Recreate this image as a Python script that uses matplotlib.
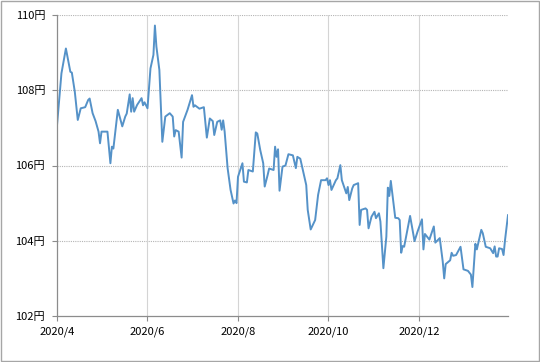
import matplotlib
matplotlib.use("Agg")
import matplotlib.pyplot as plt
import matplotlib.dates as mdates
from matplotlib.patches import Rectangle
import pandas as pd

plt.rcParams['font.family'] = ['Noto Sans CJK JP', 'DejaVu Sans']

dates = [
    "2020-04-01", "2020-04-04", "2020-04-07", "2020-04-10", "2020-04-11", "2020-04-13",
    "2020-04-15", "2020-04-17", "2020-04-20", "2020-04-22", "2020-04-23", "2020-04-25",
    "2020-04-27", "2020-04-29", "2020-04-30", "2020-05-01", "2020-05-05", "2020-05-07",
    "2020-05-08", "2020-05-09", "2020-05-12", "2020-05-15", "2020-05-17", "2020-05-18",
    "2020-05-20", "2020-05-21", "2020-05-22", "2020-05-23", "2020-05-25", "2020-05-28",
    "2020-05-29", "2020-05-30", "2020-06-01", "2020-06-03", "2020-06-05", "2020-06-06",
    "2020-06-07", "2020-06-09", "2020-06-11", "2020-06-13", "2020-06-16", "2020-06-18",
    "2020-06-19", "2020-06-20", "2020-06-22", "2020-06-24", "2020-06-25", "2020-06-28",
    "2020-07-01", "2020-07-02", "2020-07-03", "2020-07-06", "2020-07-09", "2020-07-11",
    "2020-07-13", "2020-07-15", "2020-07-16", "2020-07-18", "2020-07-20", "2020-07-21",
    "2020-07-22", "2020-07-23", "2020-07-25", "2020-07-27", "2020-07-29", "2020-07-30",
    "2020-07-31", "2020-08-01", "2020-08-04", "2020-08-05", "2020-08-07", "2020-08-08",
    "2020-08-11", "2020-08-13", "2020-08-14", "2020-08-16", "2020-08-18", "2020-08-19",
    "2020-08-21", "2020-08-22", "2020-08-25", "2020-08-26", "2020-08-27", "2020-08-28",
    "2020-08-29", "2020-08-31", "2020-09-02", "2020-09-04", "2020-09-07", "2020-09-09",
    "2020-09-10", "2020-09-12", "2020-09-16", "2020-09-17", "2020-09-19", "2020-09-22",
    "2020-09-24", "2020-09-26", "2020-09-29", "2020-09-30", "2020-10-01", "2020-10-02",
    "2020-10-03", "2020-10-06", "2020-10-07", "2020-10-09", "2020-10-10", "2020-10-13",
    "2020-10-14", "2020-10-15", "2020-10-17", "2020-10-18", "2020-10-21", "2020-10-22",
    "2020-10-23", "2020-10-26", "2020-10-27", "2020-10-28", "2020-10-30", "2020-11-01",
    "2020-11-02", "2020-11-04", "2020-11-05", "2020-11-07", "2020-11-09", "2020-11-10",
    "2020-11-11", "2020-11-12", "2020-11-15", "2020-11-17", "2020-11-18", "2020-11-19",
    "2020-11-20", "2020-11-21", "2020-11-25", "2020-11-28", "2020-11-30", "2020-12-03",
    "2020-12-04", "2020-12-05", "2020-12-08", "2020-12-11", "2020-12-12", "2020-12-15",
    "2020-12-17", "2020-12-18", "2020-12-19", "2020-12-22", "2020-12-23", "2020-12-24",
    "2020-12-26", "2020-12-29", "2020-12-31", "2021-01-03", "2021-01-05", "2021-01-06",
    "2021-01-08", "2021-01-09", "2021-01-12", "2021-01-13", "2021-01-15", "2021-01-18",
    "2021-01-20", "2021-01-21", "2021-01-22", "2021-01-23", "2021-01-24", "2021-01-26",
    "2021-01-27", "2021-01-28", "2021-01-30",
]

rates = [
    107.07, 108.45, 109.11, 108.49, 108.47, 107.96,
    107.21, 107.52, 107.55, 107.74, 107.78, 107.39,
    107.18, 106.90, 106.59, 106.90, 106.90, 106.06,
    106.50, 106.45, 107.48, 107.04, 107.30, 107.38,
    107.89, 107.43, 107.79, 107.43, 107.61, 107.79,
    107.60, 107.68, 107.52, 108.58, 108.94, 109.72,
    109.16, 108.54, 106.63, 107.30, 107.39, 107.30,
    106.77, 106.94, 106.90, 106.21, 107.16, 107.48,
    107.87, 107.56, 107.60, 107.51, 107.55, 106.74,
    107.25, 107.18, 106.81, 107.16, 107.20, 106.95,
    107.20, 106.90, 105.93, 105.35, 104.99, 105.07,
    105.00, 105.70, 106.06, 105.57, 105.55, 105.88,
    105.84, 106.88, 106.85, 106.41, 106.06, 105.44,
    105.75, 105.92, 105.88, 106.50, 106.23, 106.43,
    105.33, 105.97, 106.00, 106.30, 106.27, 105.93,
    106.23, 106.18, 105.48, 104.82, 104.30, 104.55,
    105.22, 105.61, 105.61, 105.66, 105.48, 105.61,
    105.35, 105.61, 105.66, 106.01, 105.61, 105.26,
    105.43, 105.08, 105.39, 105.48, 105.53, 104.42,
    104.82, 104.86, 104.82, 104.33, 104.64, 104.77,
    104.60, 104.73, 104.51, 103.27, 104.11, 105.41,
    105.19, 105.59, 104.61, 104.60, 104.55, 103.68,
    103.86, 103.84, 104.66, 103.99, 104.24, 104.57,
    103.77, 104.18, 104.03, 104.38, 103.95, 104.07,
    103.45, 103.00, 103.38, 103.48, 103.68, 103.60,
    103.62, 103.84, 103.24, 103.20, 103.10, 102.77,
    103.92, 103.77, 104.29, 104.20, 103.84, 103.80,
    103.67, 103.85, 103.58, 103.58, 103.80, 103.78,
    103.62, 104.02, 104.68,
]

y_ticks = [102, 104, 106, 108, 110]
y_labels = ["102円", "104円", "106円", "108円", "110円"]
x_ticks = ["2020-04-01", "2020-06-01", "2020-08-01", "2020-10-01", "2020-12-01"]
x_labels = ["2020/4", "2020/6", "2020/8", "2020/10", "2020/12"]

d = pd.to_datetime(dates)
xt = pd.to_datetime(x_ticks)

fig = plt.figure(figsize=(5.4, 3.62), dpi=100)
fig.patch.set_facecolor("white")
ax = fig.add_axes([57 / 540, 1 - 316 / 362, (508 - 57) / 540, (316 - 15) / 362])

ax.plot(d, rates, color="#5592c8", linewidth=1.4, solid_joinstyle="round")

ax.set_xlim(pd.Timestamp("2020-04-01"), pd.Timestamp("2021-01-30"))
ax.set_ylim(102, 110)
ax.set_yticks(y_ticks)
ax.set_yticklabels(y_labels)
ax.set_xticks(xt)
ax.set_xticklabels(x_labels)

for s in ["top", "right"]:
    ax.spines[s].set_visible(False)
for s in ["left", "bottom"]:
    ax.spines[s].set_color("#8c8c8c")
    ax.spines[s].set_linewidth(0.9)

ax.tick_params(axis="both", colors="#8c8c8c", labelcolor="black", labelsize=8,
               length=3.5, width=0.8)
ax.tick_params(axis="y", pad=5)
ax.tick_params(axis="x", pad=4)

for yv in y_ticks[1:]:
    ax.axhline(yv, color="#b4b4b4", linewidth=0.8, linestyle=(0, (1, 1)), zorder=0)
for xv in xt[1:]:
    ax.axvline(xv, color="#d4d4d4", linewidth=0.8, zorder=0)

fig.patches.append(Rectangle((0.002, 0.003), 0.996, 0.994, transform=fig.transFigure,
                             fill=False, edgecolor="#a6a6a6", linewidth=1.0))

fig.savefig("out.png", dpi=100)
